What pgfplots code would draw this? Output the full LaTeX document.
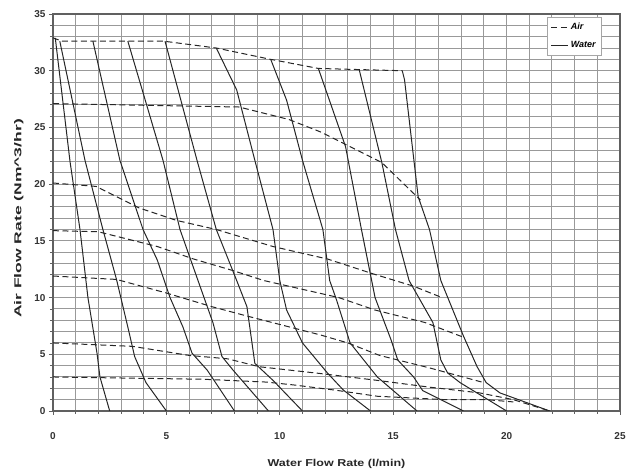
\documentclass[border=0pt]{standalone}
\usepackage{fontspec}
\setmainfont{Liberation Sans}
\usepackage{pgfplots}
\pgfplotsset{compat=1.18}

\definecolor{gridgray}{gray}{0.6}
\definecolor{curve}{gray}{0.15}

\tikzset{
  air/.style={curve, line width=1pt, dash pattern=on 6pt off 3.5pt},
  water/.style={curve, line width=1pt},
}

\begin{document}
\begin{tikzpicture}
\begin{axis}[
  width=567pt, height=397pt,
  scale only axis,
  xmin=0, xmax=25, ymin=0, ymax=35,
  xtick={0,5,...,25}, ytick={0,5,...,35},
  minor x tick num=4, minor y tick num=4,
  grid=both,
  major grid style={gridgray, line width=1pt},
  minor grid style={gridgray, line width=1pt},
  axis line style={gray!75!black, line width=1.2pt},
  tick style={gray!75!black, line width=0.8pt},
  tick align=outside,
  major tick length=4pt, minor tick length=3pt,
  xtick pos=bottom, ytick pos=left,
  /pgf/number format/assume math mode=true,
  ticklabel style={font=\bfseries, black!80},
  xticklabel style={yshift=-14pt},
  xlabel={\scalebox{1.25}[1]{\bfseries Water Flow Rate (l/min)}},
  ylabel={\scalebox{1.75}[1]{\bfseries Air Flow Rate (Nm\^{}3/hr)}},
  label style={font=\bfseries, black!85},
  xlabel style={yshift=-13pt},
  ylabel style={yshift=4pt, xshift=-6pt},
  legend style={at={(0.968,0.992)}, anchor=north east, draw=gray!70,
    font=\bfseries\itshape\small, inner xsep=4pt, inner ysep=4pt, row sep=6pt},
  legend cell align=left,
  legend image post style={line width=0.9pt},
]
\addlegendimage{air}
\addlegendentry{Air}
\addlegendimage{water}
\addlegendentry{Water}

% air curves (dashed)
\addplot[air] coordinates {(0,32.9)(0.4,32.6)(4.9,32.6)(7.2,32.0)(9.6,31.0)(11.7,30.2)(13.5,30.1)(15.4,30.0)};
\addplot[air] coordinates {(0,27.1)(8.2,26.8)(10.4,25.7)(11.8,24.6)(12.9,23.5)(14.5,21.9)(16.2,18.6)};
\addplot[air] coordinates {(0,20.1)(1.9,19.8)(3.8,17.9)(5.45,16.8)(7.2,16.0)(9.7,14.5)(12.1,13.4)(14.1,12.1)(15.9,11.0)(17.15,10.0)};
\addplot[air] coordinates {(0,15.9)(2.0,15.8)(4.6,14.5)(6.2,13.4)(7.9,12.4)(9.3,11.5)(12.6,10.0)(14.2,8.9)(16.4,7.8)(18.1,6.5)};
\addplot[air] coordinates {(0,11.9)(2.8,11.6)(5.0,10.4)(7.0,9.2)(8.5,8.4)(11.8,6.7)(13.0,6.0)(14.4,4.9)(16.6,3.8)(19.0,2.5)};
\addplot[air] coordinates {(0,6.0)(3.5,5.7)(6.0,4.9)(7.7,4.6)(9.1,3.9)(11.8,3.3)(14.3,2.7)(16.6,2.1)(18.8,1.6)(20.3,1.0)(21.9,0)};
\addplot[air] coordinates {(0,3.0)(6.6,2.8)(9.4,2.55)(10.6,2.3)(12.4,1.85)(14.3,1.3)(15.3,1.2)(17.3,1.0)(19.1,1.0)(20.3,0.8)};

% water curves (solid)
\addplot[water] coordinates {(0.1,32.9)(0.75,22.0)(1.19,16.0)(1.54,10.0)(1.94,5.1)(2.07,3.0)(2.5,0)};
\addplot[water] coordinates {(0.3,32.6)(1.41,22.1)(2.2,16.0)(2.8,11.6)(3.3,7.4)(3.6,4.8)(4.1,2.5)(5.0,0)};
\addplot[water] coordinates {(1.76,32.6)(2.95,22.1)(3.97,16.0)(4.6,13.3)(5.16,10.0)(5.73,7.4)(6.13,5.1)(6.8,3.6)(8.0,0)};
\addplot[water] coordinates {(3.3,32.6)(4.85,22.1)(5.6,16.0)(6.5,10.9)(7.05,7.8)(7.45,4.8)(7.94,3.6)(9.5,0)};
\addplot[water] coordinates {(4.94,32.6)(6.35,22.1)(7.2,16.0)(8.1,11.5)(8.55,9.2)(8.9,4.2)(9.7,2.7)(11.0,0)};
\addplot[water] coordinates {(7.2,32.0)(8.1,28.3)(8.9,22.1)(9.7,16.0)(10.0,11.5)(10.3,8.9)(11.0,6.0)(12.1,3.35)(12.8,1.85)(14.0,0)};
\addplot[water] coordinates {(9.6,31.0)(10.3,27.4)(11.0,22.1)(11.9,16.0)(12.2,11.5)(12.5,9.8)(13.1,6.0)(14.3,3.0)(16.05,0)};
\addplot[water] coordinates {(11.7,30.2)(12.9,23.3)(13.6,16.0)(14.2,10.0)(14.9,6.3)(15.2,4.5)(15.9,3.0)(16.3,1.8)(18.1,0)};
\addplot[water] coordinates {(13.5,30.1)(14.5,21.9)(15.1,16.0)(15.7,11.5)(16.75,7.8)(17.1,4.5)(17.4,3.35)(17.95,2.5)(20.0,0)};
\addplot[water] coordinates {(15.4,30.0)(15.5,29.2)(16.1,18.9)(16.6,16.0)(17.1,11.5)(18.1,6.6)(18.7,3.9)(19.1,2.5)(19.7,1.6)(21.9,0)};
\end{axis}
\pgfresetboundingbox
\path[use as bounding box] ([shift={(-53pt,-59pt)}]current axis.south west) rectangle ([shift={(15pt,14pt)}]current axis.north east);
\end{tikzpicture}
\end{document}
